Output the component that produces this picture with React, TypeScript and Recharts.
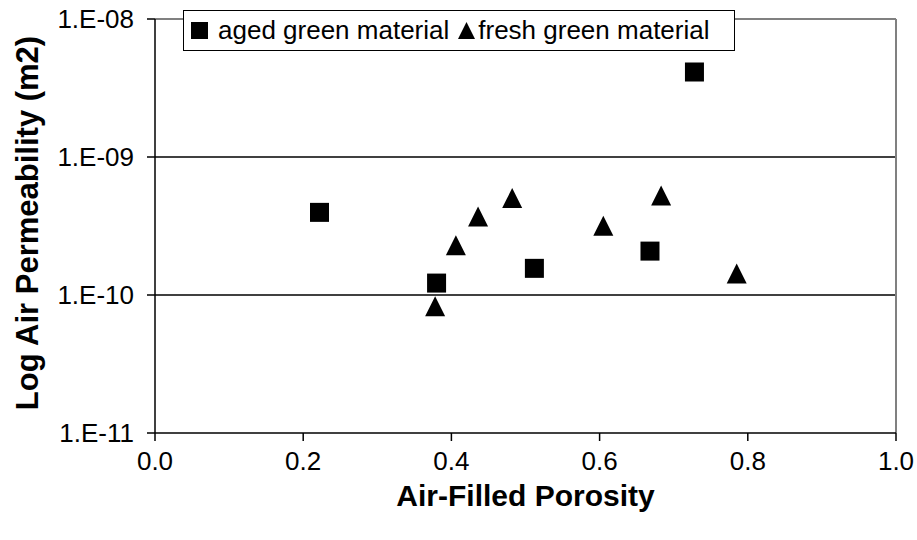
import React from "react";
import {
  ScatterChart,
  Scatter,
  XAxis,
  YAxis,
  ReferenceLine,
  Legend,
} from "recharts";

// Air-filled porosity (x) and air permeability in m² (y)
const agedPorosity = [0.222, 0.38, 0.512, 0.668, 0.728];
const agedPermeability = [3.97e-10, 1.22e-10, 1.56e-10, 2.08e-10, 4.13e-9];

const freshPorosity = [0.378, 0.406, 0.436, 0.482, 0.605, 0.683, 0.785];
const freshPermeability = [8.3e-11, 2.29e-10, 3.71e-10, 5.04e-10, 3.18e-10, 5.27e-10, 1.43e-10];

const xTicks = [0, 0.2, 0.4, 0.6, 0.8, 1.0];
const yTicks = [1e-11, 1e-10, 1e-9, 1e-8];
const gridLevels = [1e-10, 1e-9];

const seriesNames = ["aged green material", "fresh green material"];

const agedData = agedPorosity.map((x, i) => ({ x, y: agedPermeability[i] }));
const freshData = freshPorosity.map((x, i) => ({ x, y: freshPermeability[i] }));

const FONT = '"Liberation Sans", Arial, sans-serif';

const formatExp = (v: number) => {
  const e = Math.round(Math.log10(v));
  const sign = e < 0 ? "-" : "+";
  return `1.E${sign}${String(Math.abs(e)).padStart(2, "0")}`;
};

const SquareMark = (props: any) => {
  const { cx, cy } = props;
  if (cx == null || cy == null) return null;
  const s = 19;
  return <rect x={cx - s / 2} y={cy - s / 2} width={s} height={s} fill="#000" />;
};

const TriangleMark = (props: any) => {
  const { cx, cy } = props;
  if (cx == null || cy == null) return null;
  const w = 20;
  const h = 20;
  const pts = `${cx},${cy - h / 2} ${cx + w / 2},${cy + h / 2} ${cx - w / 2},${cy + h / 2}`;
  return <polygon points={pts} fill="#000" />;
};

const LegendBox = () => (
  <div
    style={{
      boxSizing: "border-box",
      width: 552,
      height: 41,
      border: "1.5px solid #000",
      background: "#fff",
      display: "flex",
      alignItems: "center",
      fontFamily: FONT,
      fontSize: 26,
      color: "#000",
      paddingLeft: 7,
      whiteSpace: "nowrap",
    }}
  >
    <svg width={17} height={17} style={{ marginRight: 10 }}>
      <rect x={0} y={0} width={17} height={17} fill="#000" />
    </svg>
    <span style={{ marginRight: 9 }}>{seriesNames[0]}</span>
    <svg width={17} height={17} style={{ marginRight: 3 }}>
      <polygon points="8.5,0 17,17 0,17" fill="#000" />
    </svg>
    <span>{seriesNames[1]}</span>
  </div>
);

const YTitle = (props: any) => {
  const vb = props.viewBox || { x: 0, y: 19, width: 155, height: 414 };
  const cy = vb.y + vb.height / 2 - 3;
  const x = 38;
  return (
    <text
      x={x}
      y={cy}
      transform={`rotate(-90, ${x}, ${cy})`}
      textAnchor="middle"
      fontFamily={FONT}
      fontSize={31}
      fontWeight="bold"
      fill="#000"
    >
      Log Air Permeability (m2)
    </text>
  );
};

export default function App() {
  return (
    <div style={{ position: "absolute", left: 0, top: 0, background: "#fff" }}>
      <ScatterChart
        width={917}
        height={540}
        margin={{ top: 19, right: 21, bottom: 0, left: 0 }}
      >
        <XAxis
          type="number"
          dataKey="x"
          domain={[0, 1]}
          ticks={xTicks}
          tickFormatter={(v: number) => v.toFixed(1)}
          height={107}
          tickSize={8}
          tickMargin={11}
          axisLine={{ stroke: "#000", strokeWidth: 1.5 }}
          tickLine={{ stroke: "#000", strokeWidth: 1.5 }}
          tick={{ fill: "#000", fontSize: 26, fontFamily: FONT }}
          label={{
            value: "Air-Filled Porosity",
            position: "insideBottom",
            offset: 34,
            fill: "#000",
            fontSize: 30,
            fontWeight: "bold",
            fontFamily: FONT,
          }}
        />
        <YAxis
          type="number"
          dataKey="y"
          scale="log"
          domain={[1e-11, 1e-8]}
          allowDataOverflow
          ticks={yTicks}
          tickFormatter={formatExp}
          width={155}
          tickSize={8}
          tickMargin={13}
          axisLine={{ stroke: "#000", strokeWidth: 1.5 }}
          tickLine={{ stroke: "#000", strokeWidth: 1.5 }}
          tick={{ fill: "#000", fontSize: 26, fontFamily: FONT }}
          label={<YTitle />}
        />
        {gridLevels.map((g) => (
          <ReferenceLine key={g} y={g} stroke="#000" strokeWidth={1.5} />
        ))}
        <ReferenceLine y={1e-8} stroke="#808080" strokeWidth={2} />
        <ReferenceLine x={1} stroke="#808080" strokeWidth={2} />
        <Legend
          verticalAlign="middle"
          layout="horizontal"
          content={<LegendBox />}
          wrapperStyle={{ left: 183, top: 10, width: 552, height: 41, bottom: "auto" }}
        />
        <Scatter
          name={seriesNames[0]}
          data={agedData}
          fill="#000"
          shape={SquareMark}
          isAnimationActive={false}
        />
        <Scatter
          name={seriesNames[1]}
          data={freshData}
          fill="#000"
          shape={TriangleMark}
          isAnimationActive={false}
        />
      </ScatterChart>
    </div>
  );
}
